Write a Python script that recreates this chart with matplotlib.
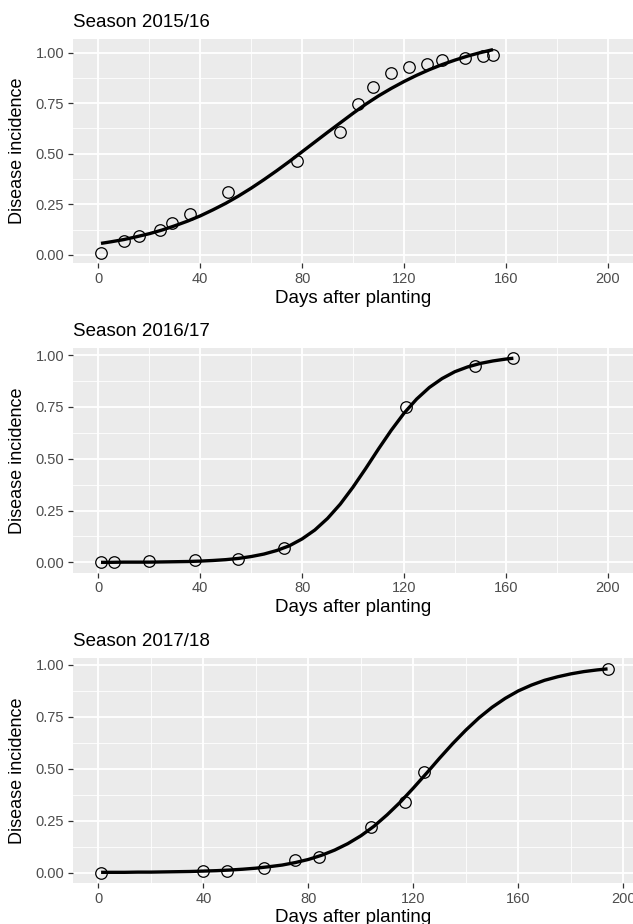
"""
Disease progress curves for three seasons (observed incidence + fitted curve).
"""

import matplotlib
matplotlib.use('Agg')
import matplotlib.pyplot as plt
from matplotlib.ticker import MultipleLocator, FormatStrFormatter

plt.rcParams['font.family'] = ['Liberation Sans', 'DejaVu Sans']

# --- observed disease incidence -------------------------------------------
days_1516 = [1, 10, 16, 24, 29, 36, 51, 78, 95, 102, 108, 115, 122, 129,
             135, 144, 151, 155]
inc_1516 = [0.010, 0.070, 0.095, 0.125, 0.160, 0.200, 0.310, 0.465, 0.607,
            0.745, 0.830, 0.900, 0.930, 0.945, 0.965, 0.972, 0.984, 0.990]

days_1617 = [1, 6, 20, 38, 55, 73, 121, 148, 163]
inc_1617 = [0.000, 0.000, 0.005, 0.010, 0.016, 0.069, 0.752, 0.948, 0.984]

days_1718 = [1, 40, 49, 63, 75, 84, 104, 117, 124, 194]
inc_1718 = [0.000, 0.005, 0.005, 0.024, 0.058, 0.074, 0.218, 0.342, 0.485,
            0.981]

# --- fitted curves ---------------------------------------------------------
fit_x_1516 = [1] + list(range(5, 156, 5))
fit_y_1516 = [0.057, 0.065, 0.076, 0.090, 0.105, 0.123, 0.144, 0.167, 0.193,
              0.223, 0.255, 0.291, 0.330, 0.372, 0.416, 0.462, 0.510, 0.558,
              0.606, 0.653, 0.700, 0.745, 0.786, 0.823, 0.857, 0.888, 0.916,
              0.941, 0.963, 0.983, 1.000, 1.015]

fit_x_1617 = [1] + list(range(5, 161, 5)) + [163]
fit_y_1617 = [0.000, 0.000, 0.001, 0.001, 0.001, 0.002, 0.003, 0.004, 0.006,
              0.009, 0.013, 0.019, 0.028, 0.040, 0.057, 0.080, 0.113, 0.156,
              0.212, 0.281, 0.363, 0.453, 0.547, 0.637, 0.719, 0.788, 0.844,
              0.887, 0.920, 0.943, 0.960, 0.972, 0.981, 0.985]

fit_x_1718 = [1] + list(range(5, 191, 5)) + [194]
fit_y_1718 = [0.001, 0.001, 0.001, 0.002, 0.002, 0.003, 0.004, 0.005, 0.007,
              0.009, 0.012, 0.016, 0.021, 0.028, 0.036, 0.048, 0.063, 0.083,
              0.108, 0.139, 0.177, 0.223, 0.278, 0.339, 0.407, 0.478, 0.551,
              0.621, 0.686, 0.745, 0.796, 0.839, 0.875, 0.903, 0.926, 0.943,
              0.957, 0.968, 0.976, 0.981]

seasons = ['Season 2015/16', 'Season 2016/17', 'Season 2017/18']
x_ticks = [0, 40, 80, 120, 160, 200]
y_ticks = [0.00, 0.25, 0.50, 0.75, 1.00]

PANEL_BG = '#EBEBEB'
TICK_TXT = '#4D4D4D'
TICK_MARK = '#333333'

FIG_W, FIG_H = 633, 924
# panel boxes in pixels: (left, top, right, bottom)
boxes = [(73, 39.3, 633, 263.0),
         (73, 348.3, 633, 572.5),
         (73, 658.3, 633, 882.7)]
xlims = [(-10, 210), (-10, 210), (-9.7, 203.7)]
ylims = [(-0.040, 1.066), (-0.049, 1.033), (-0.049, 1.032)]


def style_panel(ax, xlim, ylim, h_px):
    ax.set_facecolor(PANEL_BG)
    for s in ax.spines.values():
        s.set_visible(False)
    ax.set_xlim(*xlim)
    ax.set_ylim(*ylim)
    ax.set_xticks(x_ticks)
    ax.set_yticks(y_ticks)
    ax.yaxis.set_major_formatter(FormatStrFormatter('%.2f'))
    ax.xaxis.set_minor_locator(MultipleLocator(40, offset=20))
    ax.yaxis.set_minor_locator(MultipleLocator(0.25, offset=0.125))
    ax.grid(which='major', color='white', lw=1.3)
    ax.grid(which='minor', color='white', lw=0.6)
    ax.set_axisbelow(True)
    ax.tick_params(which='major', length=3.4, width=0.9, color=TICK_MARK,
                   labelsize=10.5, labelcolor=TICK_TXT, pad=3)
    ax.tick_params(which='minor', length=0)
    ax.set_xlabel('Days after planting', fontsize=13.5)
    ax.set_ylabel('Disease incidence', fontsize=13)
    ax.xaxis.label.set_va('baseline')
    ax.xaxis.set_label_coords(0.5, -39.7 / h_px)
    ax.yaxis.label.set_va('center')
    ax.yaxis.set_label_coords(-55.0 / 560.0, 0.5)


def main():
    fig = plt.figure(figsize=(FIG_W / 100, FIG_H / 100), dpi=100)

    obs = [(days_1516, inc_1516), (days_1617, inc_1617), (days_1718, inc_1718)]
    fits = [(fit_x_1516, fit_y_1516), (fit_x_1617, fit_y_1617),
            (fit_x_1718, fit_y_1718)]

    for i in range(3):
        l, t, r, b = boxes[i]
        ax = fig.add_axes([l / FIG_W, 1 - b / FIG_H, (r - l) / FIG_W,
                           (b - t) / FIG_H])
        style_panel(ax, xlims[i], ylims[i], b - t)

        fx, fy = fits[i]
        ax.plot(fx, fy, color='black', lw=2.4, solid_capstyle='butt', zorder=3)
        dx, dy = obs[i]
        ax.plot(dx, dy, ls='none', marker='o', ms=8.3, mfc='none', mec='black',
                mew=0.9, zorder=4)

        ax.set_title(seasons[i], loc='left', fontsize=13.5, pad=8.6,
                     color='black')

    fig.savefig('out.png', dpi=100)
    plt.close(fig)


if __name__ == '__main__':
    main()
